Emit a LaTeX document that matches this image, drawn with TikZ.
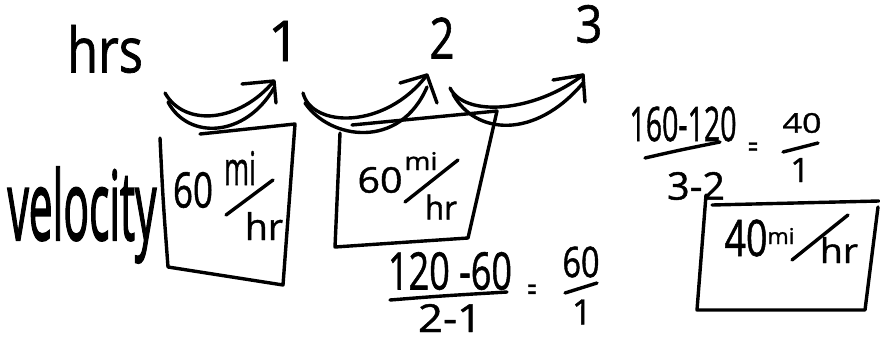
\documentclass[tikz,border=0pt]{standalone}
\usepackage{fontspec}
\setmainfont{Open Sans}[FakeBold=1.2]
\newfontfamily\heavyink{Open Sans}[FakeBold=2.2]
\tikzset{
  ink/.style={line width=3.4pt, line cap=round, line join=round, black},
  txt/.style={inner sep=0pt, outer sep=0pt, anchor=center},
}
% set a piece of text into a box of given width and total height
\newcommand{\hw}[3]{\resizebox*{#1}{#2}{#3}}

\begin{document}
\begin{tikzpicture}[x=1pt,y=-1pt]
\useasboundingbox (0,0) rectangle (880,343);

% --- row labels and hour marks ---
\node[txt] (hrs) at (105,49) {\hw{76pt}{48pt}{hrs}};
\node[txt] (h1)  at (284,41) {\hw{!}{40pt}{1}};
\node[txt] (h2)  at (442,38) {\hw{25pt}{41pt}{2}};
\node[txt] (h3)  at (589,24) {\hw{27pt}{38pt}{3}};
\node[txt] (vel) at (82,215) {\hw{149pt}{96pt}{\heavyink velocity}};

% --- hop arrows between hours ---
\coordinate (a1s) at (165,93);  \coordinate (a1t) at (274,81);
\coordinate (a2s) at (303,93);  \coordinate (a2t) at (427,75);
\coordinate (a3s) at (450,88);  \coordinate (a3t) at (583,75);

\draw[ink] (a1s) .. controls (185,128) and (240,122) .. (a1t);
\draw[ink] (168,102) .. controls (188,140) and (245,138) .. ([yshift=-7pt]a1t);
\draw[ink] (242,84) -- (a1t) -- (276,103);

\draw[ink] (a2s) .. controls (312,128) and (385,130) .. (a2t);
\draw[ink] (305,103) .. controls (330,140) and (400,150) .. ([yshift=-12pt]a2t);
\draw[ink] (400,83) -- (a2t) -- (437,103);

\draw[ink] (a3s) .. controls (465,118) and (535,112) .. (a3t);
\draw[ink] (453,94) .. controls (475,135) and (535,140) .. ([yshift=-8pt]a3t);
\draw[ink] (553,80) -- (a3t) -- (585,102);

% --- first velocity box ---
\draw[ink] (200,134) -- (295,124) -- (283,285) -- (168,267) .. controls (163,200) .. (160,138);
\node[txt] (b1n) at (193,190) {\hw{40pt}{36pt}{60}};
\node[txt] (b1m) at (240,168) {\hw{32pt}{34pt}{mi}};
\node[txt] (b1h) at (264,226) {\hw{38pt}{28pt}{hr}};
\draw[ink] (226,215) -- (273,180);

% --- second velocity box ---
\draw[ink] (352,125) -- (497,111) -- (468,238) -- (335,247) -- (340,133);
\node[txt] (b2n) at (380,180) {\hw{45pt}{26pt}{60}};
\node[txt] (b2m) at (421,161) {\hw{33pt}{18pt}{mi}};
\node[txt] (b2h) at (441,207) {\hw{32pt}{25pt}{hr}};
\draw[ink] (405,202) -- (458,160);

% --- first slope computation ---
\node[txt] (f1n) at (450,271) {\hw{124pt}{38pt}{120 -60}};
\draw[ink] (390,300) .. controls (440,296) .. (507,292);
\node[txt] (f1d) at (450,318) {\hw{64pt}{28pt}{2-1}};
\node[txt] (f1e) at (532,293) {\hw{9pt}{17pt}{=}};
\node[txt] (r1n) at (581,262) {\hw{37pt}{31pt}{60}};
\draw[ink] (565,293) -- (597,283);
\node[txt] (r1d) at (582,312) {\hw{!}{25pt}{1}};

% --- second slope computation ---
\node[txt] (f2n) at (683,124) {\hw{107pt}{35pt}{160-120}};
\draw[ink] (645,158) .. controls (680,150) .. (720,142);
\node[txt] (f2d) at (696,186) {\hw{58pt}{28pt}{3-2}};
\node[txt] (f2e) at (753,150) {\hw{10pt}{15pt}{=}};
\node[txt] (r2n) at (802,123) {\hw{39pt}{20pt}{40}};
\draw[ink] (783,152) -- (818,143);
\node[txt] (r2d) at (800,170) {\hw{!}{24pt}{1}};

% --- third velocity box ---
\draw[ink] (712,205) -- (879,201);
\draw[ink] (878,207) -- (865,310) -- (697,310) -- (706,195);
\node[txt] (b3n) at (746,238) {\hw{43pt}{37pt}{40}};
\node[txt] (b3m) at (781,236) {\hw{27pt}{16pt}{mi}};
\node[txt] (b3h) at (839,250) {\hw{38pt}{26pt}{hr}};
\draw[ink] (792,260) -- (848,215);
\end{tikzpicture}
\end{document}
